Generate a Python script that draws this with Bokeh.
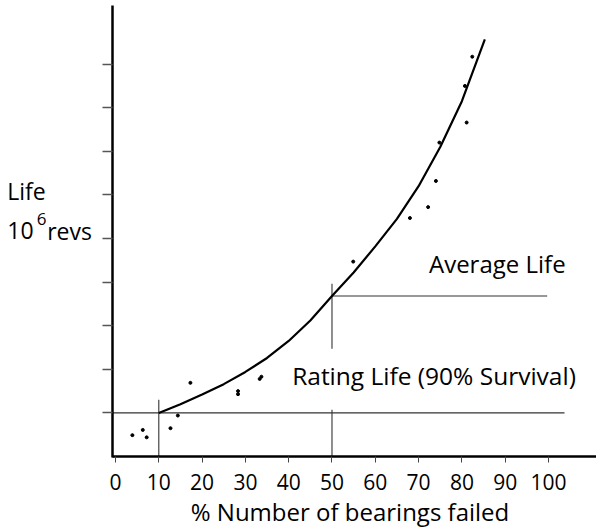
from bokeh.plotting import figure
from bokeh.models import Range1d, FixedTicker, Label, LinearAxis
from bokeh.embed import file_html
from bokeh.resources import INLINE

# ---- data ----
curve_pct = [10, 15, 20, 25, 30, 35, 40, 45, 50, 55, 60, 65, 70, 75, 80, 85.3]
curve_life = [1.00, 1.20, 1.42, 1.66, 1.94, 2.26, 2.65, 3.12, 3.68, 4.22, 4.82, 5.45, 6.20, 7.10, 8.15, 9.57]

test_pct = [3.9, 6.3, 7.2, 12.7, 14.4, 17.3, 28.3, 28.3, 33.3, 33.7,
            54.9, 68.0, 72.2, 74.0, 74.8, 80.7, 81.1, 82.4]
test_life = [0.49, 0.61, 0.44, 0.65, 0.94, 1.69, 1.50, 1.43, 1.78, 1.83,
             4.47, 5.47, 5.72, 6.32, 7.20, 8.50, 7.66, 9.17]

rating_pct = 10
rating_life = 1.0
average_pct = 50
average_life = 3.68

x_ticks = [0, 10, 20, 30, 40, 50, 60, 70, 80, 90, 100]
x_tick_labels = ["0", "10", "20", "30", "40", "50", "60", "70", "80", "90", "100"]
y_ticks = [1, 2, 3, 4, 5, 6, 7, 8, 9]

# ---- layout constants ----
VX0, VX1 = -26.56, 111.09      # visible data window (whole canvas)
VY0, VY1 = -1.674, 10.459
AX_X = -0.69                   # where the y axis sits
AX_TOP = 10.34                 # top end of the y axis
FONT = "Open Sans"

p = figure(width=596, height=529, output_backend="svg", toolbar_location=None,
           x_range=Range1d(VX0, VX1), y_range=Range1d(VY0, VY1),
           x_axis_location=None, y_axis_location=None,
           min_border=0)
p.xgrid.visible = False
p.ygrid.visible = False
p.outline_line_color = None
p.background_fill_color = "white"
p.border_fill_color = "white"

# x axis (drawn at life = 0)
xax = LinearAxis(fixed_location=0, bounds=(AX_X, VX1),
                 ticker=FixedTicker(ticks=x_ticks),
                 major_label_overrides={t: s for t, s in zip(x_ticks, x_tick_labels)})
xax.axis_line_width = 2.5
xax.axis_line_color = "black"
xax.major_tick_in = 0
xax.major_tick_out = 6
xax.major_tick_line_color = "#444444"
xax.major_tick_line_width = 1
xax.minor_tick_line_color = None
xax.major_label_text_font = FONT
xax.major_label_text_font_size = "21px"
xax.major_label_text_color = "black"
xax.major_label_standoff = 11
p.add_layout(xax, "below")

# y axis (drawn at the left edge of the data area)
yax = LinearAxis(fixed_location=AX_X, bounds=(-0.03, AX_TOP),
                 ticker=FixedTicker(ticks=y_ticks),
                 major_label_overrides={t: "" for t in y_ticks})
yax.axis_line_width = 2.5
yax.axis_line_color = "black"
yax.major_tick_in = 0
yax.major_tick_out = 10
yax.major_tick_line_color = "#555555"
yax.major_tick_line_width = 1.3
yax.minor_tick_line_color = None
p.add_layout(yax, "left")

# reference lines
ref_x0 = [AX_X, rating_pct, average_pct, average_pct, average_pct]
ref_y0 = [rating_life, 0, 0, 2.47, average_life]
ref_x1 = [103.7, rating_pct, average_pct, average_pct, 99.7]
ref_y1 = [rating_life, 1.3, 1.07, 3.96, average_life]
p.segment(ref_x0, ref_y0, ref_x1, ref_y1, line_color="#333333", line_width=1.1)

# fitted curve and test points
p.line(curve_pct, curve_life, line_color="black", line_width=2.2)
p.scatter(test_pct, test_life, marker="circle", size=3, color="black")

def label(x, y, text, size, align="left"):
    p.add_layout(Label(x=x, y=y, text=text, text_font=FONT, text_font_size=size,
                       text_color="black", text_baseline="alphabetic",
                       text_align=align))

label(72.4, 4.43, "Average Life", "24px")
label(40.8, 1.86, "Rating Life (90% Survival)", "24.5px")
label(54.16, -1.26, "% Number of bearings failed", "24px", "center")
label(-25.0, 6.08, "Life", "23px")
label(-25.0, 5.18, "10", "23px")
label(-18.2, 5.44, "6", "17px")
label(-15.77, 5.18, "revs", "23px")

open("out.html", "w").write(file_html(p, INLINE))
